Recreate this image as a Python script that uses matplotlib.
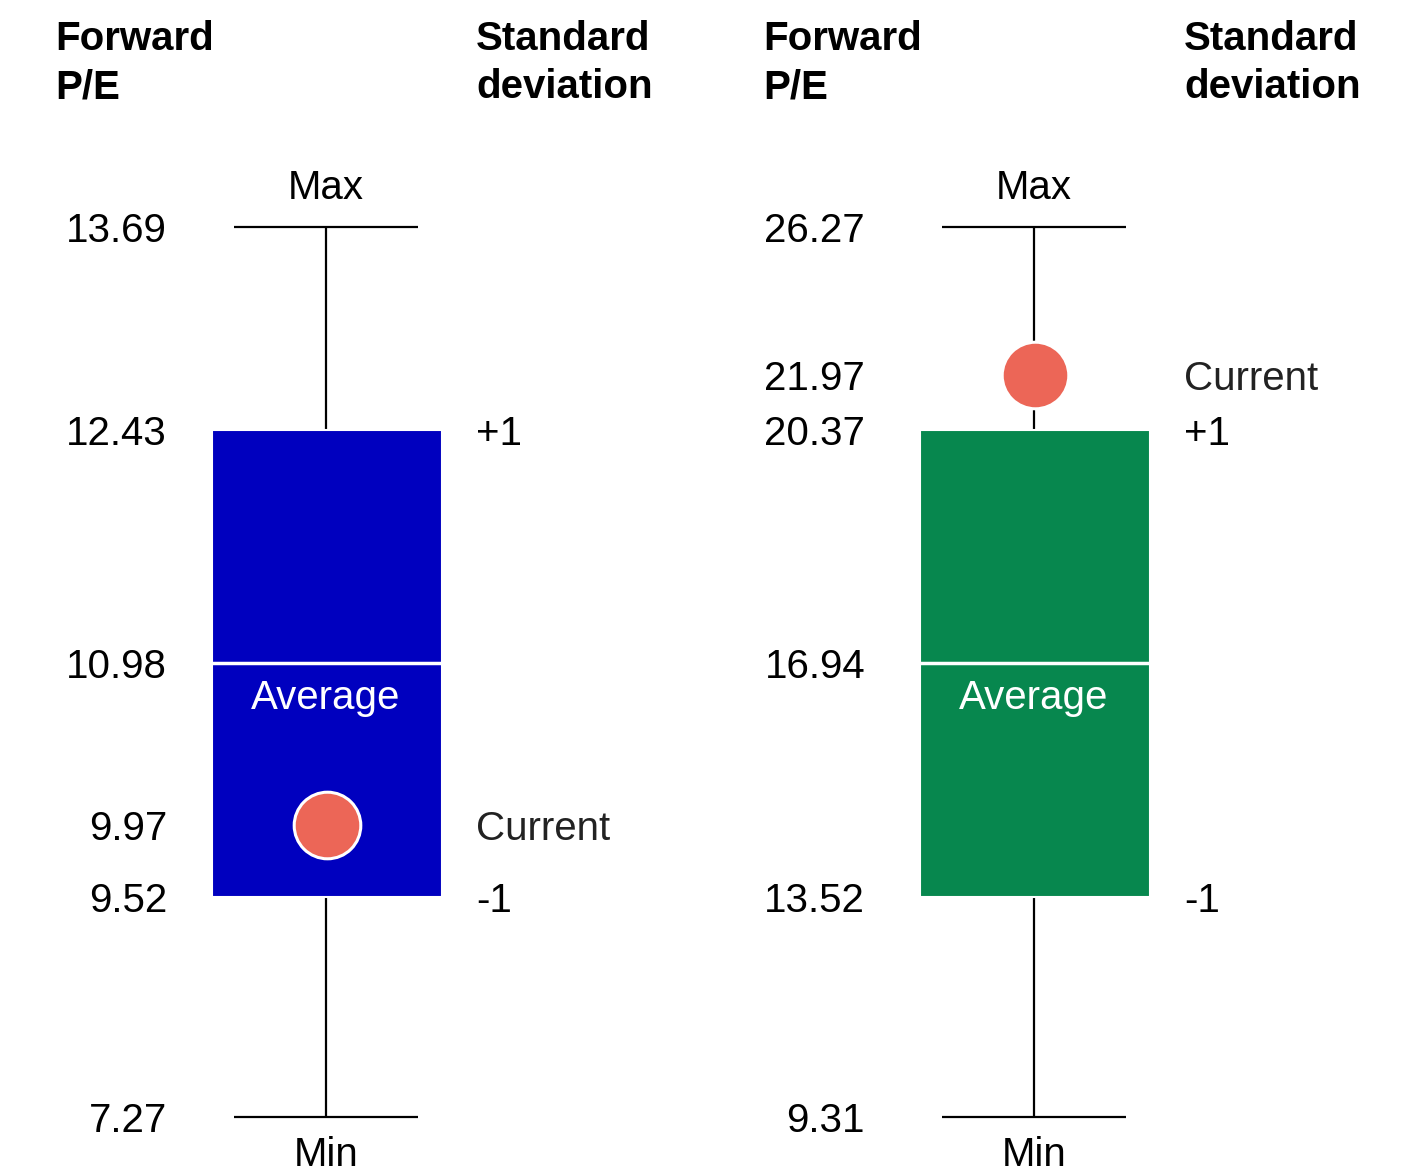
import numpy as np
import matplotlib
matplotlib.use('Agg')
import matplotlib.pyplot as plt

# Forward P/E summary for two markets
maxs = [13.69, 26.27]
plus1 = [12.43, 20.37]
averages = [10.98, 16.94]
minus1 = [9.52, 13.52]
mins = [7.27, 9.31]
current = [9.97, 21.97]

box_colors = ['#0000BF', '#07874E']
dot_color = '#EC6657'

# schematic row (pixels from top) for min, -1, average, +1, max
rows_px = np.array([1117, 897, 663, 430, 227], dtype=float)

plt.rcParams['font.family'] = ['Liberation Sans Narrow', 'Liberation Sans', 'DejaVu Sans']

W, H = 1408, 1174
PANEL_W = 708
FS = 29
tick_x = [167, 157]


def piecewise(xp, fp):
    xp = np.asarray(xp, float)
    fp = np.asarray(fp, float)

    def f(v):
        v = np.asarray(v, float)
        out = np.interp(v, xp, fp)
        lo = fp[0] + (v - xp[0]) * (fp[1] - fp[0]) / (xp[1] - xp[0])
        hi = fp[-1] + (v - xp[-1]) * (fp[-1] - fp[-2]) / (xp[-1] - xp[-2])
        out = np.where(v < xp[0], lo, out)
        out = np.where(v > xp[-1], hi, out)
        return out
    return f


fig = plt.figure(figsize=(W / 100, H / 100), dpi=100)

for i in range(2):
    ax = fig.add_axes([i * PANEL_W / W, 0, PANEL_W / W, 1])
    keys = [mins[i], minus1[i], averages[i], plus1[i], maxs[i]]
    fwd = piecewise(keys, -rows_px)
    inv = piecewise(-rows_px, keys)
    ax.set_yscale('function', functions=(fwd, inv))
    ax.set_xlim(0, PANEL_W)
    ax.set_ylim(float(inv(-H)), float(inv(0)))
    ax.axis('off')

    cx = 326
    # whiskers and caps
    ax.vlines(cx, plus1[i], maxs[i], color='black', lw=1.6, zorder=1)
    ax.vlines(cx, mins[i], minus1[i], color='black', lw=1.6, zorder=1)
    ax.hlines([maxs[i], mins[i]], 234, 418, color='black', lw=1.6, zorder=1)

    # box between -1 and +1 standard deviation
    ax.bar(cx + 1, plus1[i] - minus1[i], bottom=minus1[i], width=230,
           color=box_colors[i], edgecolor='white', lw=1.5, zorder=2)
    ax.hlines(averages[i], 212, 442, color='white', lw=2.5, zorder=3)

    ax.scatter([cx + 1], [current[i]], s=2300, color=dot_color,
               edgecolor='white', lw=2.2, zorder=4)

    ax.annotate('Max', (cx, maxs[i]), xytext=(0, 39), textcoords='offset pixels',
                ha='center', va='center', fontsize=FS)
    ax.annotate('Min', (cx, mins[i]), xytext=(0, -38), textcoords='offset pixels',
                ha='center', va='center', fontsize=FS)
    ax.annotate('Average', (cx, averages[i]), xytext=(0, -35),
                textcoords='offset pixels', ha='center', va='center',
                fontsize=FS, color='white', zorder=5)

    # value labels on the left
    for v in keys + [current[i]]:
        ax.annotate(f'{v:.2f}', (tick_x[i], v), xytext=(0, -4),
                    textcoords='offset pixels', ha='right', va='center',
                    fontsize=FS)

    # standard deviation labels on the right
    for v, lab, col in [(plus1[i], '+1', 'black'), (minus1[i], '-1', 'black'),
                        (current[i], 'Current', '#222222')]:
        ax.annotate(lab, (476, v), xytext=(0, -4), textcoords='offset pixels',
                    ha='left', va='center', fontsize=FS, color=col)

    # column headers
    x0 = i * PANEL_W
    fig.text((x0 + 55) / W, 1 - 20 / H, 'Forward\nP/E', ha='left', va='top',
             fontsize=FS, fontweight='bold', linespacing=1.35)
    fig.text((x0 + 476) / W, 1 - 20 / H, 'Standard\ndeviation', ha='left', va='top',
             fontsize=FS, fontweight='bold', linespacing=1.35)

fig.savefig('out.png', dpi=100, facecolor='white')
